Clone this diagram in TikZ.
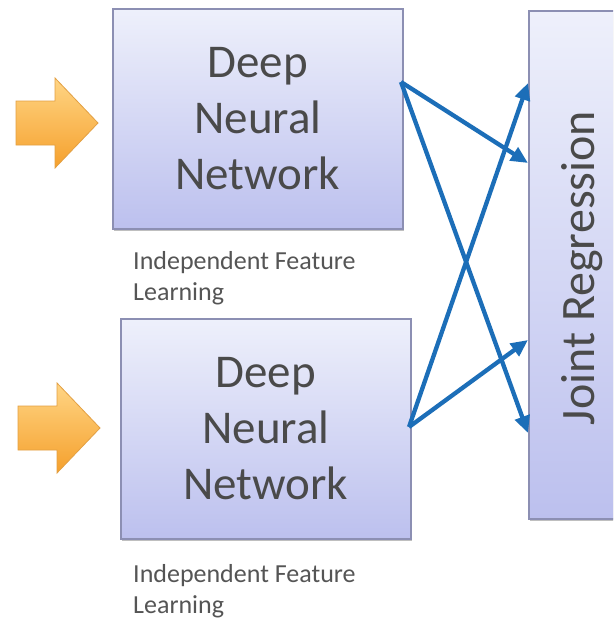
\documentclass[tikz,border=0pt]{standalone}
\usepackage{fontspec}
\setmainfont{Carlito}
\usetikzlibrary{arrows.meta,shadows,calc}

\definecolor{boxtop}{HTML}{EEF0FB}
\definecolor{boxbot}{HTML}{BCC0EE}
\definecolor{boxedge}{HTML}{8C8FB3}
\definecolor{inktext}{HTML}{4A4A4A}
\definecolor{captext}{HTML}{555555}
\definecolor{linkblue}{HTML}{1C6EB8}
\definecolor{orangetop}{HTML}{FFD585}
\definecolor{orangebot}{HTML}{F5A02C}
\definecolor{orangeedge}{HTML}{E3A043}

\tikzset{
  netbox/.style={draw=boxedge, line width=1.6pt, top color=boxtop, bottom color=boxbot,
    drop shadow={shadow xshift=1.5pt, shadow yshift=-2.5pt, opacity=0.25, fill=black},
    anchor=north west, inner sep=0pt, align=center, text=inktext,
    font=\fontsize{47}{56}\selectfont},
  caption/.style={anchor=base west, inner sep=0pt, align=left, text=captext,
    font=\fontsize{26}{31}\selectfont},
  link/.style={draw=linkblue, line width=4.3pt, -{Triangle[length=17pt,width=15pt]}},
  inarrow/.style={draw=orangeedge, line width=0.8pt, top color=orangetop, bottom color=orangebot,
    line join=miter},
}

% block arrow whose tip sits at (#1,#2)
\newcommand{\feedarrow}[2]{%
  \draw[inarrow, shift={(#1,#2)}]
    (-82,-22) -- (-43,-22) -- (-43,-45) -- (0,0) -- (-43,45) -- (-43,22) -- (-82,22) -- cycle;}

\begin{document}
\begin{tikzpicture}[x=1pt, y=-1pt]
  \useasboundingbox[fill=white] (0,0) rectangle (613,621);
  \begin{scope}
    \clip (0,0) rectangle (613,621);

    % input arrows
    \feedarrow{98}{123}
    \feedarrow{100}{428}

    % feature extractors
    \node[netbox, minimum width=290pt, minimum height=220pt] (dnn1) at (112,8) {Deep\\Neural\\Network};
    \node[netbox, minimum width=290pt, minimum height=220pt] (dnn2) at (120,318) {Deep\\Neural\\Network};

    % captions (anchored at the baseline of their last line)
    \node[caption] (cap1) at (133,300) {Independent Feature\\Learning};
    \node[caption] (cap2) at (133,613) {Independent Feature\\Learning};

    % regression block, running past the right edge
    \node[netbox, minimum width=120pt, minimum height=508pt] (joint) at (528,10) {};
    \node[rotate=90, text=inktext, inner sep=0pt, font=\fontsize{48}{58}\selectfont]
      (jointlabel) at (582,268) {Joint Regression};

    % connection points
    \coordinate (out1) at (401,82);
    \coordinate (out2) at (409,427);
    \coordinate (in1) at (528,83);
    \coordinate (in2) at (528,163);
    \coordinate (in3) at (528,340);
    \coordinate (in4) at (528,433);

    \draw[link] (out1) -- (in2);
    \draw[link] (out1) -- (in4);
    \draw[link] (out2) -- (in1);
    \draw[link] (out2) -- (in3);
  \end{scope}
\end{tikzpicture}
\end{document}
